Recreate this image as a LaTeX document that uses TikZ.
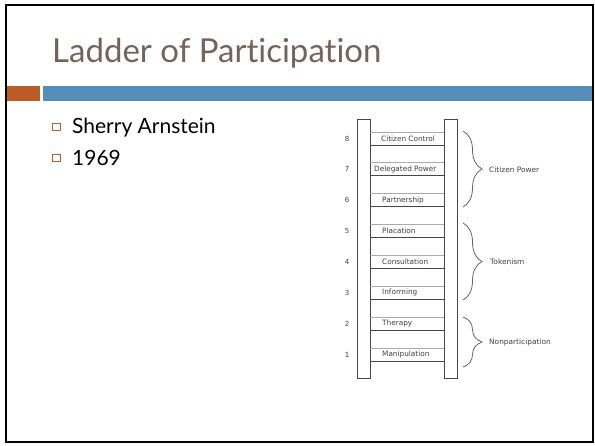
\documentclass[tikz,border=0pt]{standalone}
\usepackage{fontspec}
\setmainfont{Lato}[Ligatures={NoCommon,NoRare}]
\newfontfamily\ladderfont{DejaVu Sans}
\usepackage{tikz}
\usetikzlibrary{positioning,decorations.pathreplacing,calc}
\definecolor{titel}{RGB}{117,98,90}
\definecolor{balkrood}{RGB}{185,92,38}
\definecolor{balkblauw}{RGB}{84,140,186}
\definecolor{sport}{RGB}{70,70,70}
\definecolor{sportlicht}{RGB}{170,170,170}

\begin{document}
\begin{tikzpicture}[x=1pt,y=-1pt,
    opsom/.style={font=\fontsize{21}{24}\selectfont,text=black,inner sep=0pt,anchor=base west},
    vakje/.style={draw=balkrood,line width=0.8pt,minimum size=7.5pt,inner sep=0pt},
    trede/.style={font=\ladderfont\fontsize{7.3}{8}\selectfont,text=black!75,inner sep=0pt,anchor=west},
    nummer/.style={font=\ladderfont\fontsize{7}{8}\selectfont,text=black!75,inner sep=0pt},
    groep/.style={font=\ladderfont\fontsize{7.4}{8}\selectfont,text=black!75,inner sep=0pt,anchor=west},
    accolade/.style={draw=black!60,line width=0.8pt,decorate,decoration={brace,amplitude=19pt}}]
  \useasboundingbox (0,0) rectangle (595,445);
  \fill[white] (0,0) rectangle (595,445);
  \draw[line width=2pt] (6.2,4.6) rectangle (592.8,442.4);
  \fill[balkrood] (7,86) rectangle (40,100.5);
  \fill[balkblauw] (43,86) rectangle (591.8,100.5);
  \node[anchor=base west,inner sep=0pt,text=titel,font=\fontsize{33}{38}\selectfont] (kop) at (52,62) {Ladder of Participation};
  \node[vakje] (vak1) at (56.5,127) {};
  \node[opsom] (punt1) at (72,133) {Sherry Arnstein};
  \node[vakje] (vak2) at (56.5,158) {};
  \node[opsom] (punt2) at (72,165) {1969};
  % de ladder
  \draw[sport,line width=0.8pt] (357,119) rectangle (370,378);
  \draw[sport,line width=0.8pt] (444,119) rectangle (457,378);
  \foreach \k/\naam/\links in {1/Manipulation/382,2/Therapy/382,3/Informing/382,4/Consultation/382,
      5/Placation/382,6/Partnership/382,7/Delegated Power/374,8/Citizen Control/381}{
    \pgfmathsetmacro{\onder}{361-(\k-1)*30.86}
    \draw[sportlicht,line width=0.7pt] (370,\onder-13) -- (444,\onder-13);
    \draw[sport,line width=0.9pt] (370,\onder) -- (444,\onder);
    \node[trede] (trede\k) at (\links,\onder-6.5) {\naam};
    \node[nummer] (nr\k) at (347,\onder-6.5) {\k};
  }
  \node[groep] (macht) at (489,170) {Citizen Power};
  \node[groep] (token) at (490,262) {Tokenism};
  \node[groep] (geen) at (489,342) {Nonparticipation};
  \draw[accolade] (463,131) -- (463,207);
  \draw[accolade] (463,223) -- (463,300);
  \draw[accolade] (463,317) -- (463,367);
\end{tikzpicture}
\end{document}
